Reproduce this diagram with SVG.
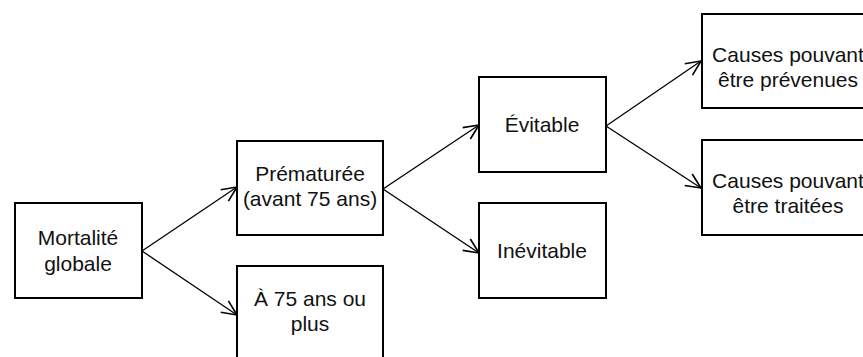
<svg xmlns="http://www.w3.org/2000/svg" width="863" height="357" viewBox="0 0 863 357">
<style>
.box{fill:#fff;stroke:#000;stroke-width:2}
.t{font-family:"Liberation Sans",Arial,sans-serif;font-size:21px;fill:#111;text-anchor:middle}
.c{stroke:#000;stroke-width:1.3;fill:none}
</style>
<defs>
<marker id="ah" markerUnits="userSpaceOnUse" markerWidth="20" markerHeight="20" viewBox="-14 -8 16 16" refX="0" refY="0" orient="auto">
<path d="M-12,-5.5 L0,0 L-12,5.5" fill="none" stroke="#000" stroke-width="1.3"/>
</marker>
</defs>
<rect width="863" height="357" fill="#fff"/>
<g id="connectors">
<line class="c" x1="142" y1="251" x2="237" y2="187" marker-end="url(#ah)"/>
<line class="c" x1="142" y1="251" x2="237" y2="315" marker-end="url(#ah)"/>
<line class="c" x1="383" y1="189" x2="479" y2="125" marker-end="url(#ah)"/>
<line class="c" x1="383" y1="189" x2="479" y2="253" marker-end="url(#ah)"/>
<line class="c" x1="606" y1="126" x2="701" y2="61" marker-end="url(#ah)"/>
<line class="c" x1="606" y1="126" x2="701" y2="188" marker-end="url(#ah)"/>
</g>
<g id="mortalite">
<rect class="box" x="15" y="203" width="127" height="95"/>
<text class="t" x="78" y="245">Mortalité</text>
<text class="t" x="78" y="271">globale</text>
</g>
<g id="prematuree">
<rect class="box" x="237" y="141" width="146" height="94"/>
<text class="t" x="310" y="181">Prématurée</text>
<text class="t" x="310" y="206">(avant 75 ans)</text>
</g>
<g id="a75">
<rect class="box" x="237" y="266" width="146" height="100"/>
<text class="t" x="310" y="306">À 75 ans ou</text>
<text class="t" x="310" y="331">plus</text>
</g>
<g id="evitable">
<rect class="box" x="479" y="77" width="127" height="95"/>
<text class="t" x="542" y="132">Évitable</text>
</g>
<g id="inevitable">
<rect class="box" x="479" y="203" width="127" height="95"/>
<text class="t" x="542" y="258">Inévitable</text>
</g>
<g id="prevenues">
<rect class="box" x="702" y="14" width="175" height="94"/>
<text class="t" x="788" y="62">Causes pouvant</text>
<text class="t" x="788" y="87">être prévenues</text>
</g>
<g id="traitees">
<rect class="box" x="702" y="140" width="175" height="95"/>
<text class="t" x="788" y="188">Causes pouvant</text>
<text class="t" x="788" y="213">être traitées</text>
</g>
</svg>
